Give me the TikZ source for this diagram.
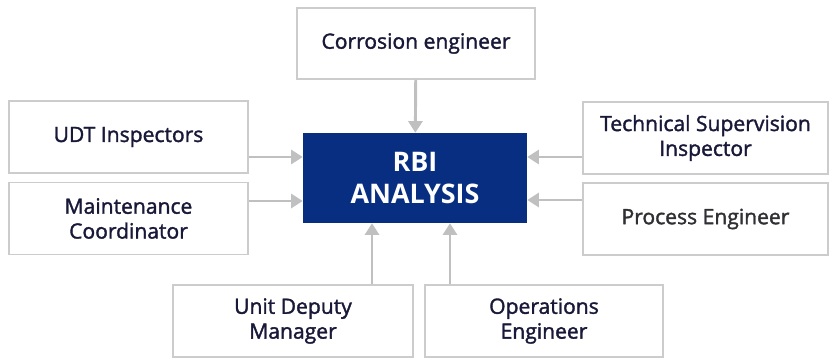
\documentclass[tikz,border=0pt]{standalone}
\usepackage{fontspec}
\setmainfont{Open Sans}
\newfontfamily\rolefont{Open Sans}[FakeBold=1.6]
\usetikzlibrary{arrows.meta}
\definecolor{rbiblue}{RGB}{8,46,130}
\definecolor{boxgray}{RGB}{204,204,204}
\definecolor{arrgray}{RGB}{192,192,192}
\definecolor{ink}{RGB}{24,24,56}
\definecolor{darkink}{RGB}{48,48,52}

\tikzset{
	role/.style={draw=boxgray, line width=1.5pt, fill=white, inner sep=0pt,
		minimum width=7.17cm, minimum height=2.16cm, align=center, text=ink,
		font=\rolefont\fontsize{18}{21.2}\selectfont},
	rbi/.style={fill=rbiblue, inner sep=0pt, minimum width=6.72cm,
		minimum height=2.7cm, align=center, text=white,
		font=\fontsize{23}{28}\selectfont\bfseries},
	feed/.style={draw=arrgray, line width=2.5pt,
		-{Triangle[length=10pt,width=12pt]}}
}

\begin{document}
\begin{tikzpicture}[x=0.03cm, y=-0.03cm]
	\useasboundingbox (0,0) rectangle (833,361);
	\node [rbi] (RBI) at (415, 178) {RBI\\ANALYSIS};
	\node [role, minimum width=7.14cm, minimum height=2.13cm] (CE) at (416, 43.5) {Corrosion engineer};
	\node [role] (UDT) at (128.5, 137) {UDT Inspectors};
	\node [role] (MC) at (128.5, 218.5) {Maintenance\\Coordinator};
	\node [role, minimum width=7.35cm] (TSI) at (705.5, 138) {Technical Supervision\\Inspector};
	\node [role, minimum width=7.35cm, text=darkink] (PE) at (705.5, 219) {Process Engineer};
	\node [role, minimum width=7.2cm] (UDM) at (293, 321) {Unit Deputy\\Manager};
	\node [role, minimum width=7.14cm] (OE) at (544, 321) {Operations\\Engineer};

	\coordinate (UDTout) at ([yshift=-0.6cm]UDT.east);
	\coordinate (MCout) at ([yshift=0.525cm]MC.east);
	\coordinate (TSIout) at ([yshift=-0.57cm]TSI.west);
	\coordinate (PEout) at ([yshift=0.57cm]PE.west);
	\coordinate (UDMout) at ([xshift=2.37cm]UDM.north);
	\coordinate (OEout) at ([xshift=-2.82cm]OE.north);

	\draw [feed] (CE) -- (RBI);
	\draw [feed] (UDTout) -- (UDTout -| RBI.west);
	\draw [feed] (MCout) -- (MCout -| RBI.west);
	\draw [feed] (TSIout) -- (TSIout -| RBI.east);
	\draw [feed] (PEout) -- (PEout -| RBI.east);
	\draw [feed] (UDMout) -- (UDMout |- RBI.south);
	\draw [feed] (OEout) -- (OEout |- RBI.south);
\end{tikzpicture}
\end{document}
